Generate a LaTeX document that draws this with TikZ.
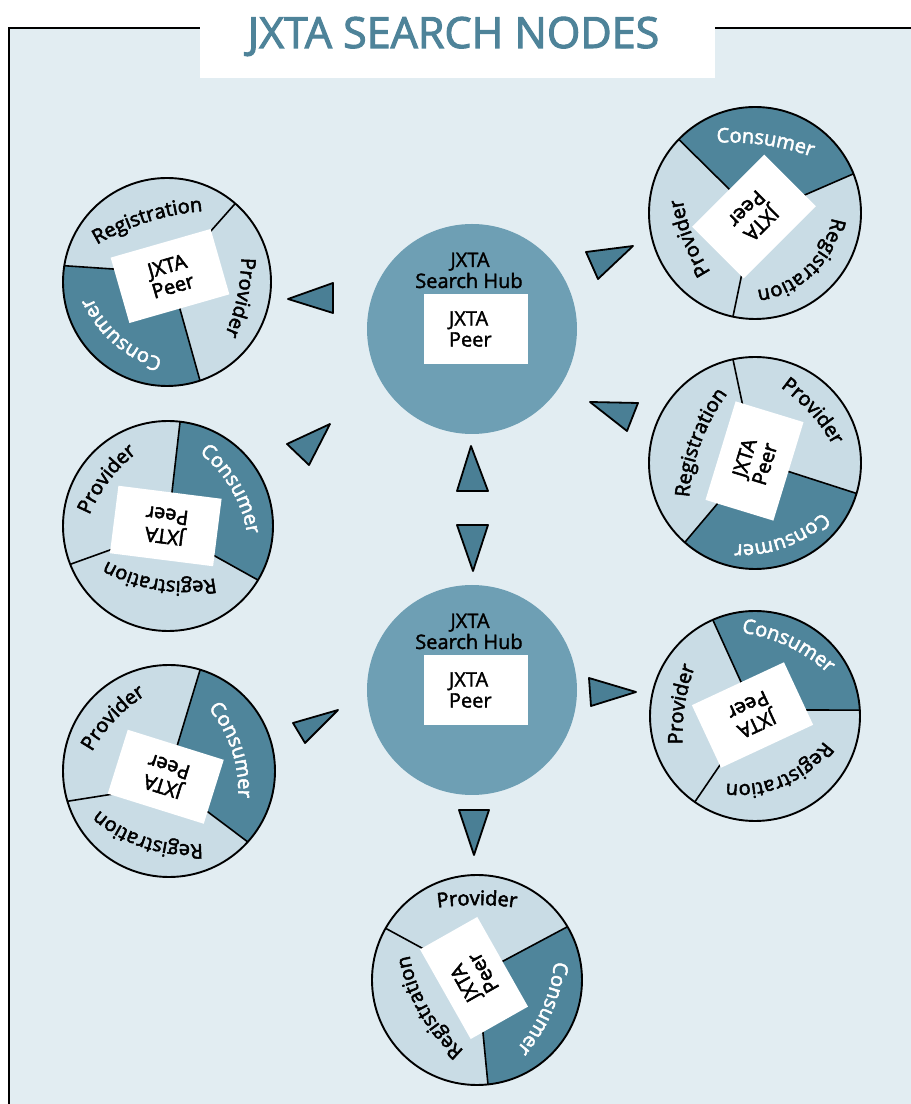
\documentclass[tikz,border=0pt]{standalone}
\usepackage{fontspec}
\setmainfont{Open Sans}
\newfontfamily\medfam{Open Sans}[FakeBold=2.6]
\newfontfamily\hubfam{Open Sans}[FakeBold=1.6]
\newfontfamily\titlefam{Open Sans}[FakeBold=2.4]
\usetikzlibrary{calc,decorations.text}
\definecolor{bg}{HTML}{E2EDF2}
\definecolor{seglight}{HTML}{C9DCE5}
\definecolor{segdark}{HTML}{4F859B}
\definecolor{hubfill}{HTML}{6E9FB4}
\definecolor{titlecol}{HTML}{4E8399}
\definecolor{arrowfill}{HTML}{4A7F95}
\newcommand\labfont{\medfam\fontsize{20}{24}\selectfont}
\newcommand\pfont{\medfam\fontsize{20}{21}\selectfont}
\newcommand\hubfont{\hubfam\fontsize{20}{21}\selectfont}
\newcommand\titlefont{\titlefam\fontsize{43}{43}\selectfont}
\newcommand\darkseg[6]{\fill[segdark] (#5) -- ($(#1)+(#3:#2)$) arc[start angle=#3, end angle=#4, radius=#2] -- (#6) -- (#1) -- cycle;}
\newcommand\pdivider[4]{%
  \path ($(#1)+(#3:#2)$) coordinate (dvP);
  \draw[divline] (dvP) -- ($(dvP)!1.25!(#4)$);}
\newcommand\seglab[6]{%
  \pgfmathsetmacro\lspan{4600/#4}%
  \path[decorate, decoration={text along path, text align=center, text color=#5, text={|\labfont|#6}}]
    ($(#1)+(#2:#3-#4)+(#2+\lspan:#4)$) arc[start angle=#2+\lspan, end angle=#2-\lspan, radius=#4];}
\tikzset{
  divline/.style={draw=black, line width=1.6pt},
  discline/.style={draw=black, line width=1.9pt},
  pbox/.style={fill=white, inner sep=0pt, align=center, font=\pfont},
  hub/.style={circle, fill=hubfill, minimum size=210pt, inner sep=0pt},
  hubbox/.style={fill=white, minimum width=104pt, minimum height=70pt, inner sep=0pt, text width=54pt, align=left, font=\hubfont},
  hubtext/.style={anchor=base, font=\hubfont, inner sep=0pt},
  arrowtri/.style={fill=arrowfill, draw=black, line width=1.8pt, line join=round}
}
\begin{document}
\begin{tikzpicture}[x=1pt,y=1pt]
\useasboundingbox (0,0) rectangle (911,1104);
\fill[white] (0,0) rectangle (911,1104);
\fill[bg] (9,0) rectangle (911,1076);
\draw[line width=1.8pt] (9,0) -- (9,1076) -- (200,1076);
\draw[line width=1.8pt] (715,1076) -- (911,1076);
\fill[white] (200,1026) rectangle (715,1104);
\node[anchor=base, font=\titlefont, text=titlecol, inner sep=0pt] (title) at (453.5,1056) {JXTA SEARCH NODES};

% hubs
\node[hub] (hub1) at (472,775) {};
\node[hubtext] (h1a) at (470,837) {JXTA};
\node[hubtext] (h1b) at (469,816) {Search Hub};
\node[hubbox] (h1box) at (476,775) {JXTA\\Peer};
\node[hub] (hub2) at (472,414) {};
\node[hubtext] (h2a) at (470,476) {JXTA};
\node[hubtext] (h2b) at (469,455) {Search Hub};
\node[hubbox] (h2box) at (476,414) {JXTA\\Peer};

% arrows
\draw[arrowtri] (288,805) -- (333,821) -- (333,791) -- cycle;
\draw[arrowtri] (330,680) -- (287,660) -- (309,639) -- cycle;
\draw[arrowtri] (471,658) -- (457,613) -- (488,613) -- cycle;
\draw[arrowtri] (457,579) -- (488,579) -- (473,533) -- cycle;
\draw[arrowtri] (633,858) -- (586,852) -- (598,825) -- cycle;
\draw[arrowtri] (590,702) -- (638,701) -- (627,673) -- cycle;
\draw[arrowtri] (636,412) -- (589,426) -- (591,398) -- cycle;
\draw[arrowtri] (338,394) -- (293,381) -- (305,361) -- cycle;
\draw[arrowtri] (459,294) -- (489,294) -- (474,249) -- cycle;

% Peer A
\coordinate (cA) at (167,822);
\fill[seglight] (cA) circle[radius=104];
\darkseg{cA}{104}{171}{288.5}{113,835}{178,802}
\seglab{cA}{107.6}{63}{250}{black}{Registration}
\seglab{cA}{-12}{71.6}{200}{black}{Provider}
\seglab{cA}{229}{71}{110}{white}{Consumer}
\pdivider{cA}{104}{49}{210,872}
\pdivider{cA}{104}{171}{113,835}
\pdivider{cA}{104}{288.5}{178,802}
\draw[discline] (cA) circle[radius=104];
\node[pbox, minimum width=104pt, minimum height=68pt, rotate=16] (pA) at (170,828) {JXTA\\Peer};

% Peer B
\coordinate (cB) at (755,891);
\fill[seglight] (cB) circle[radius=106];
\darkseg{cB}{106}{21.7}{136}{807,910}{728,916}
\seglab{cB}{81.6}{68.7}{250}{white}{Consumer}
\seglab{cB}{201}{66.5}{200}{black}{Provider}
\seglab{cB}{-46}{74}{88}{black}{Registration}
\pdivider{cB}{106}{136}{728,916}
\pdivider{cB}{106}{21.7}{807,910}
\pdivider{cB}{106}{258}{741,826}
\draw[discline] (cB) circle[radius=106];
\node[pbox, minimum width=102pt, minimum height=73pt, rotate=225] (pB) at (754,887.5) {JXTA\\Peer};

% Peer C
\coordinate (cC) at (755,641);
\fill[seglight] (cC) circle[radius=106];
\darkseg{cC}{106}{228.5}{343.3}{718,601}{790,632}
\seglab{cC}{42}{74}{180}{black}{Provider}
\seglab{cC}{159.7}{57.6}{200}{black}{Registration}
\seglab{cC}{-70}{79}{120}{white}{Consumer}
\pdivider{cC}{106}{102}{742,702}
\pdivider{cC}{106}{-16.7}{790,632}
\pdivider{cC}{106}{228.5}{718,601}
\draw[discline] (cC) circle[radius=106];
\node[pbox, minimum width=103pt, minimum height=71pt, rotate=73] (pC) at (754.5,643) {JXTA\\Peer};

% Peer D
\coordinate (cD) at (168,578);
\fill[seglight] (cD) circle[radius=105];
\darkseg{cD}{105}{-31}{83.4}{213,549}{172,612}
\seglab{cD}{142.7}{74}{160}{black}{Provider}
\seglab{cD}{30.4}{73}{130}{white}{Consumer}
\seglab{cD}{261}{54}{160}{black}{Registration}
\pdivider{cD}{105}{83.4}{172,612}
\pdivider{cD}{105}{-31}{213,549}
\pdivider{cD}{105}{201.4}{110,554}
\draw[discline] (cD) circle[radius=105];
\node[pbox, minimum width=104pt, minimum height=68pt, rotate=172.8] (pD) at (165.75,578) {JXTA\\Peer};

% Peer E
\coordinate (cE) at (755,388);
\fill[seglight] (cE) circle[radius=105];
\darkseg{cE}{105}{3.2}{113.7}{810,394}{741,422}
\seglab{cE}{64.8}{77}{160}{white}{Consumer}
\seglab{cE}{171}{71}{200}{black}{Provider}
\seglab{cE}{-66.5}{65}{105}{black}{Registration}
\pdivider{cE}{105}{113.7}{741,422}
\pdivider{cE}{105}{3.2}{810,394}
\pdivider{cE}{105}{235}{720,339}
\draw[discline] (cE) circle[radius=105];
\node[pbox, minimum width=101.6pt, minimum height=69pt, rotate=205] (pE) at (752.5,389) {JXTA\\Peer};

% Peer F
\coordinate (cF) at (169,333);
\fill[seglight] (cF) circle[radius=106];
\darkseg{cF}{106}{-42}{72.9}{208,292}{178,361}
\seglab{cF}{136.6}{74}{160}{black}{Provider}
\seglab{cF}{18.4}{66}{130}{white}{Consumer}
\seglab{cF}{252}{70}{140}{black}{Registration}
\pdivider{cF}{106}{72.9}{178,361}
\pdivider{cF}{106}{-42}{208,292}
\pdivider{cF}{106}{196.6}{107,309}
\draw[discline] (cF) circle[radius=106];
\node[pbox, minimum width=100.6pt, minimum height=67pt, rotate=162.6] (pF) at (165.75,327.25) {JXTA\\Peer};

% Peer G
\coordinate (cG) at (477,124);
\fill[seglight] (cG) circle[radius=105];
\darkseg{cG}{105}{276}{390.5}{483,71}{507,145}
\seglab{cG}{90}{75}{300}{black}{Provider}
\seglab{cG}{209.7}{56}{160}{black}{Registration}
\seglab{cG}{-23.3}{71}{160}{white}{Consumer}
\pdivider{cG}{105}{150.5}{420,157}
\pdivider{cG}{105}{30.5}{507,145}
\pdivider{cG}{105}{276}{483,71}
\draw[discline] (cG) circle[radius=105];
\node[pbox, minimum width=103pt, minimum height=65.8pt, rotate=119.5] (pG) at (474,126) {JXTA\\Peer};
\end{tikzpicture}
\end{document}
